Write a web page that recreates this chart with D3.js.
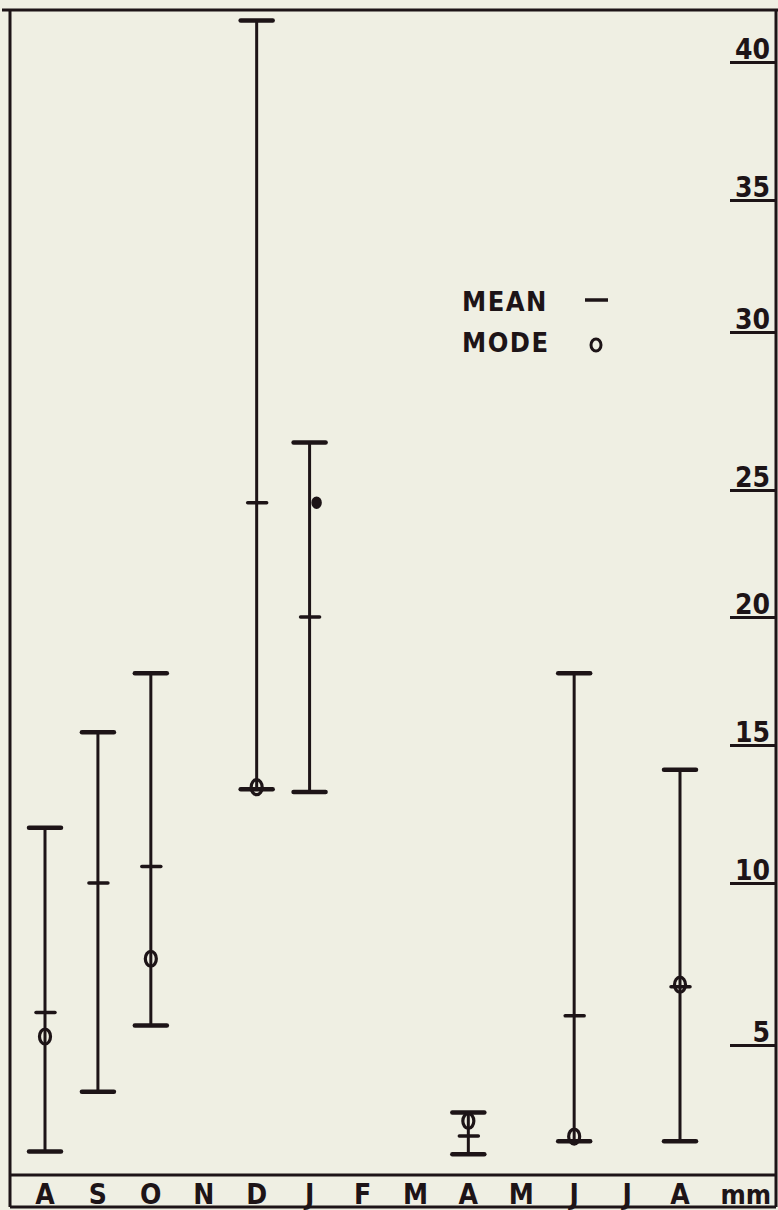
<!DOCTYPE html>
<html><head><meta charset="utf-8">
<script src="https://cdn.jsdelivr.net/npm/d3@7"></script>
<style>
body{margin:0;background:#efefe3;}
svg{display:block;}
text{font-family:"DejaVu Sans Condensed","DejaVu Sans",sans-serif;font-weight:bold;fill:#1d1417;}
</style></head>
<body><svg id="c" width="778" height="1210"></svg>
<script>
// ---- data ----
const monthLabels = ["A","S","O","N","D","J","F","M","A","M","J","J","A"];
const sampleMonth = [0, 1, 2, 4, 5, 8, 10, 12];          // index into monthLabels
const maxVals  = [12.0, 15.5, 17.8, 41.5, 26.5, 2.4, 17.8, 14.1];
const minVals  = [0.9, 3.2, 5.6, 13.4, 13.3, 0.8, 1.3, 1.3];
const meanVals = [6.0, 10.0, 10.6, 24.5, 20.0, 1.5, 5.9, 6.8];
const modeVals = [5.2, null, 7.6, 13.4, 24.5, 2.0, 1.4, 6.8];
const modeFilled = [false, false, false, false, true, false, false, false];
const yTickVals = [0, 5, 10, 15, 20, 25, 30, 35, 40];
const unitLabel = "mm";
const legendItems = ["MEAN", "MODE"];

// ---- layout ----
const W = 778, H = 1210;
const ink = "#1d1417";
const frame = {left: 10, right: 776, top: 10, axis: 1175, bottom: 1207};
// hand-ruled scale of the original drawing: pixel row of each tick value
const yRangePx = [1175, 1045, 883, 745, 617, 490, 332, 200, 62];

const svg = d3.select("#c");
svg.append("rect").attr("width", W).attr("height", H).attr("fill", "#efefe3");

const x = d3.scaleLinear().domain([0, monthLabels.length - 1]).range([45, 680]);
const y = d3.scaleLinear().domain(yTickVals).range(yRangePx);

// frame
const fr = svg.append("g").attr("stroke", ink).attr("stroke-width", 3).attr("fill", "none");
fr.append("line").attr("x1", 2).attr("x2", W).attr("y1", frame.top).attr("y2", frame.top);
fr.append("line").attr("x1", frame.left).attr("x2", frame.left).attr("y1", frame.top).attr("y2", frame.bottom);
fr.append("line").attr("x1", frame.right).attr("x2", frame.right).attr("y1", frame.top).attr("y2", frame.bottom);
fr.append("line").attr("x1", frame.left).attr("x2", frame.right).attr("y1", frame.axis).attr("y2", frame.axis);
fr.append("line").attr("x1", frame.left).attr("x2", frame.right).attr("y1", frame.bottom).attr("y2", frame.bottom);

// right axis (ticks drawn as underlines beneath the labels)
const ax = svg.append("g").attr("transform", `translate(${frame.right},0)`)
  .call(d3.axisLeft(y).tickValues(yTickVals.filter(v => v > 0)).tickSize(46).tickFormat(d3.format("d")));
ax.select(".domain").remove();
ax.selectAll(".tick line").attr("stroke", ink).attr("stroke-width", 3);
ax.selectAll(".tick text").attr("x", -6).attr("dy", "-4px")
  .attr("font-size", 28).attr("fill", ink)
  .style("font-family", '"DejaVu Sans Condensed","DejaVu Sans",sans-serif').style("font-weight", "bold");

// month labels
svg.append("g").selectAll("text").data(monthLabels).join("text")
  .attr("x", (d, i) => x(i)).attr("y", 1204).attr("text-anchor", "middle")
  .attr("font-size", 28).text(d => d);
svg.append("text").attr("x", frame.right - 5).attr("y", 1204).attr("text-anchor", "end")
  .attr("font-size", 27).text(unitLabel);

// range bars
const rows = sampleMonth.map((m, i) => ({m, max: maxVals[i], min: minVals[i], mean: meanVals[i], mode: modeVals[i], filled: modeFilled[i]}));
const g = svg.append("g").attr("stroke", ink).attr("fill", "none");
const bars = g.selectAll("g").data(rows).join("g");
bars.append("line").attr("stroke-width", 3)
  .attr("x1", d => x(d.m)).attr("x2", d => x(d.m)).attr("y1", d => y(d.max)).attr("y2", d => y(d.min));
bars.append("line").attr("stroke-width", 4.5).attr("stroke-linecap", "round")
  .attr("x1", d => x(d.m) - 16).attr("x2", d => x(d.m) + 16).attr("y1", d => y(d.max)).attr("y2", d => y(d.max));
bars.append("line").attr("stroke-width", 4.5).attr("stroke-linecap", "round")
  .attr("x1", d => x(d.m) - 16).attr("x2", d => x(d.m) + 16).attr("y1", d => y(d.min)).attr("y2", d => y(d.min));
bars.append("line").attr("stroke-width", 3.5).attr("stroke-linecap", "round")
  .attr("x1", d => x(d.m) - 9).attr("x2", d => x(d.m) + 10).attr("y1", d => y(d.mean)).attr("y2", d => y(d.mean));
bars.filter(d => d.mode != null && !d.filled).append("ellipse")
  .attr("cx", d => x(d.m)).attr("cy", d => y(d.mode) - 2)
  .attr("rx", 5.5).attr("ry", 7.5).attr("stroke-width", 3.2);
bars.filter(d => d.mode != null && d.filled).append("ellipse")
  .attr("cx", d => x(d.m) + 7).attr("cy", d => y(d.mode))
  .attr("rx", 4.5).attr("ry", 5.5).attr("stroke-width", 1.5).attr("fill", ink);

// legend
const lg = svg.append("g");
lg.append("text").attr("x", 462).attr("y", 311).attr("font-size", 27).attr("letter-spacing", 1.5).text(legendItems[0]);
lg.append("text").attr("x", 462).attr("y", 352).attr("font-size", 27).attr("letter-spacing", 1.5).text(legendItems[1]);
lg.append("line").attr("x1", 585).attr("x2", 608).attr("y1", 300).attr("y2", 300).attr("stroke", ink).attr("stroke-width", 3.5);
lg.append("ellipse").attr("cx", 596).attr("cy", 345).attr("rx", 5).attr("ry", 6)
  .attr("stroke", ink).attr("stroke-width", 3).attr("fill", "none");
</script></body></html>
